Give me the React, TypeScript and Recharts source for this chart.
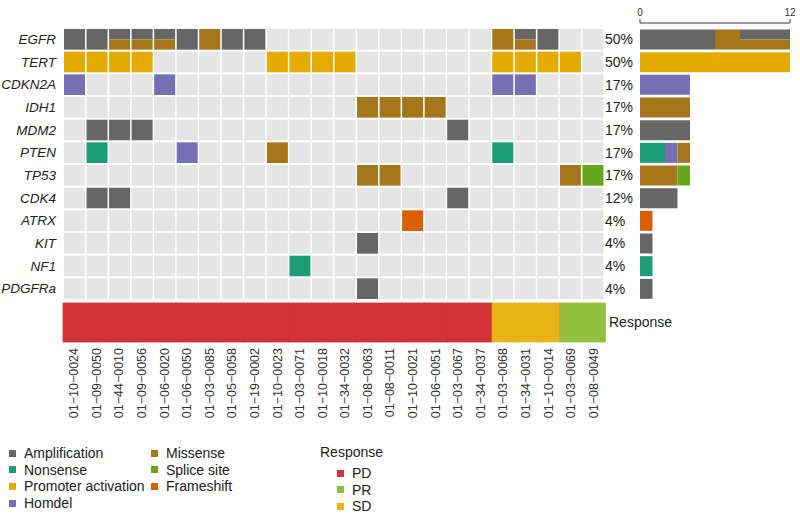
import { BarChart, Bar, XAxis, YAxis, Cell } from "recharts";

const FONT = "'Liberation Sans', Arial, Helvetica, sans-serif";

const samples = [
  "01−10−0024", "01−09−0050", "01−44−0010", "01−09−0056", "01−06−0020", "01−06−0050",
  "01−03−0085", "01−05−0058", "01−19−0002", "01−10−0023", "01−03−0071", "01−10−0018",
  "01−34−0032", "01−08−0063", "01−08−0011", "01−10−0021", "01−06−0051", "01−03−0067",
  "01−34−0037", "01−03−0068", "01−34−0031", "01−10−0014", "01−03−0069", "01−08−0049",
];

const response = [
  "PD", "PD", "PD", "PD", "PD", "PD", "PD", "PD", "PD", "PD", "PD", "PD",
  "PD", "PD", "PD", "PD", "PD", "PD", "PD", "SD", "SD", "SD", "PR", "PR",
];

const genes = ["EGFR", "TERT", "CDKN2A", "IDH1", "MDM2", "PTEN", "TP53", "CDK4", "ATRX", "KIT", "NF1", "PDGFRa"];
const pctLabels = ["50%", "50%", "17%", "17%", "17%", "17%", "17%", "12%", "4%", "4%", "4%", "4%"];

// one code per sample: A amplification, N nonsense, P promoter activation,
// H homdel, M missense, S splice site, F frameshift, "" none
const EGFR = ["A", "A", "AM", "AM", "AM", "A", "M", "A", "A", "", "", "", "", "", "", "", "", "", "", "M", "AM", "A", "", ""];
const TERT = ["P", "P", "P", "P", "", "", "", "", "", "P", "P", "P", "P", "", "", "", "", "", "", "P", "P", "P", "P", ""];
const CDKN2A = ["H", "", "", "", "H", "", "", "", "", "", "", "", "", "", "", "", "", "", "", "H", "H", "", "", ""];
const IDH1 = ["", "", "", "", "", "", "", "", "", "", "", "", "", "M", "M", "M", "M", "", "", "", "", "", "", ""];
const MDM2 = ["", "A", "A", "A", "", "", "", "", "", "", "", "", "", "", "", "", "", "A", "", "", "", "", "", ""];
const PTEN = ["", "N", "", "", "", "H", "", "", "", "M", "", "", "", "", "", "", "", "", "", "N", "", "", "", ""];
const TP53 = ["", "", "", "", "", "", "", "", "", "", "", "", "", "M", "M", "", "", "", "", "", "", "", "M", "S"];
const CDK4 = ["", "A", "A", "", "", "", "", "", "", "", "", "", "", "", "", "", "", "A", "", "", "", "", "", ""];
const ATRX = ["", "", "", "", "", "", "", "", "", "", "", "", "", "", "", "F", "", "", "", "", "", "", "", ""];
const KIT = ["", "", "", "", "", "", "", "", "", "", "", "", "", "A", "", "", "", "", "", "", "", "", "", ""];
const NF1 = ["", "", "", "", "", "", "", "", "", "", "N", "", "", "", "", "", "", "", "", "", "", "", "", ""];
const PDGFRa = ["", "", "", "", "", "", "", "", "", "", "", "", "", "A", "", "", "", "", "", "", "", "", "", ""];

const geneCodes: Record<string, string[]> = { EGFR, TERT, CDKN2A, IDH1, MDM2, PTEN, TP53, CDK4, ATRX, KIT, NF1, PDGFRa };

const mutColors: Record<string, string> = {
  A: "#666666",
  N: "#1b9e77",
  P: "#e6ab02",
  H: "#7570b3",
  M: "#a6761d",
  S: "#66a61e",
  F: "#d95f02",
};
const respColors: Record<string, string> = { PD: "#d13336", PR: "#92c140", SD: "#e8b417" };
const BG = "#e5e5e5";

const gridData = samples.map((s, i) => {
  const row: Record<string, string | number> = { sample: s };
  genes.forEach((g) => {
    row[g] = 1;
    row[g + "_code"] = geneCodes[g][i];
  });
  return row;
});

const respData = samples.map((s, i) => ({ sample: s, response: response[i] }));

const barKeys = ["A", "N", "P", "H", "M", "AM", "S", "F"];
const countData = genes.map((g, gi) => {
  const row: Record<string, string | number> = { gene: g, pct: pctLabels[gi] };
  barKeys.forEach((k) => (row[k] = 0));
  geneCodes[g].forEach((c) => {
    if (c) row[c] = (row[c] as number) + 1;
  });
  return row;
});

function GridCell(props: any) {
  const { x, y, width, height, gene, index } = props;
  const code: string = geneCodes[gene][index];
  const x0 = x + 1;
  const y0 = y + 1;
  const w = width - 2;
  const h = height - 2;
  if (code.length === 2) {
    return (
      <g>
        <rect x={x0} y={y0} width={w} height={h / 2} fill={mutColors[code[0]]} />
        <rect x={x0} y={y0 + h / 2} width={w} height={h / 2} fill={mutColors[code[1]]} />
      </g>
    );
  }
  return <rect x={x0} y={y0} width={w} height={h} fill={code ? mutColors[code] : BG} />;
}

function SplitBar(props: any) {
  const { x, y, width, height } = props;
  if (!width) return null;
  return (
    <g>
      <rect x={x} y={y} width={width} height={height / 2} fill={mutColors.A} />
      <rect x={x} y={y + height / 2} width={width} height={height / 2} fill={mutColors.M} />
    </g>
  );
}

const legendMut = [
  ["A", "Amplification"],
  ["N", "Nonsense"],
  ["P", "Promoter activation"],
  ["H", "Homdel"],
  ["M", "Missense"],
  ["S", "Splice site"],
  ["F", "Frameshift"],
];
const legendResp = ["PD", "PR", "SD"];

function LegendItem({ color, label, left, top }: { color: string; label: string; left: number; top: number }) {
  return (
    <div style={{ position: "absolute", left, top, display: "flex", alignItems: "center", whiteSpace: "nowrap" }}>
      <span style={{ width: 7, height: 7, background: color, display: "inline-block", marginRight: 8 }} />
      <span>{label}</span>
    </div>
  );
}

export default function App() {
  return (
    <div
      style={{
        position: "absolute",
        left: 0,
        top: 0,
        width: 800,
        height: 516,
        background: "#fff",
        fontFamily: FONT,
        color: "#222",
        fontSize: 14,
      }}
    >
      <div style={{ position: "absolute", left: 0, top: 0 }}>
        <BarChart width={610} height={300} data={gridData} margin={{ top: 28, right: 6, left: 3, bottom: 0 }} barCategoryGap={0}>
          <XAxis dataKey="sample" hide />
          <YAxis
            type="number"
            domain={[0, 12]}
            ticks={genes.map((_, i) => i + 0.5)}
            interval={0}
            width={60}
            axisLine={false}
            tickLine={false}
            tick={(p: any) => (
              <text
                x={p.x + 1}
                y={p.y}
                dy="0.35em"
                textAnchor="end"
                fontStyle="italic"
                fontSize={13.5}
                fill="#222"
                fontFamily={FONT}
              >
                {genes[11 - Math.floor(p.payload.value)]}
              </text>
            )}
          />
          {[...genes].reverse().map((g) => (
            <Bar
              key={g}
              dataKey={g}
              stackId="g"
              isAnimationActive={false}
              shape={(p: any) => <GridCell {...p} gene={g} />}
            />
          ))}
        </BarChart>
      </div>

      <div style={{ position: "absolute", left: 0, top: 300 }}>
        <BarChart width={610} height={140} data={respData} margin={{ top: 3, right: 5, left: 63, bottom: 0 }} barCategoryGap={0}>
          <XAxis
            dataKey="sample"
            height={98}
            axisLine={false}
            tickLine={false}
            tickSize={4}
            tickMargin={2}
            interval={0}
            tick={(p: any) => (
              <text
                x={p.x}
                y={p.y}
                transform={`rotate(-90, ${p.x}, ${p.y})`}
                textAnchor="end"
                dominantBaseline="central"
                fontSize={12.5}
                fill="#333"
                fontFamily={FONT}
              >
                {p.payload.value}
              </text>
            )}
          />
          <YAxis hide domain={[0, 1]} />
          <Bar dataKey={() => 1} isAnimationActive={false}>
            {respData.map((d) => (
              <Cell key={d.sample} fill={respColors[d.response]} stroke={respColors[d.response]} strokeWidth={0.8} />
            ))}
          </Bar>
        </BarChart>
      </div>

      <div style={{ position: "absolute", left: 609, top: 314 }}>Response</div>

      <div style={{ position: "absolute", left: 596, top: 0 }}>
        <BarChart
          width={204}
          height={300}
          data={countData}
          layout="vertical"
          margin={{ top: 3, right: 10, left: 0, bottom: 0 }}
          barCategoryGap={1.5}
        >
          <XAxis
            type="number"
            orientation="top"
            domain={[0, 12]}
            ticks={[0, 12]}
            height={20}
            tickSize={4}
            tickMargin={3}
            stroke="#333"
            tick={{ fontSize: 10, fill: "#333", fontFamily: FONT }}
          />
          <YAxis
            type="category"
            dataKey="gene"
            width={44}
            interval={0}
            padding={{ top: 5, bottom: 0 }}
            axisLine={false}
            tickLine={false}
            tick={(p: any) => (
              <text x={9} y={p.y} dy="0.35em" textAnchor="start" fontSize={14} fill="#222" fontFamily={FONT}>
                {pctLabels[genes.indexOf(p.payload.value)]}
              </text>
            )}
          />
          {barKeys.map((k) =>
            k === "AM" ? (
              <Bar key={k} dataKey={k} stackId="c" isAnimationActive={false} shape={(p: any) => <SplitBar {...p} />} />
            ) : (
              <Bar key={k} dataKey={k} stackId="c" fill={mutColors[k]} isAnimationActive={false} />
            )
          )}
        </BarChart>
      </div>

      {legendMut.slice(0, 4).map(([k, label], i) => (
        <LegendItem key={k} color={mutColors[k]} label={label} left={9} top={445 + i * 16.7} />
      ))}
      {legendMut.slice(4).map(([k, label], i) => (
        <LegendItem key={k} color={mutColors[k]} label={label} left={151} top={445 + i * 16.7} />
      ))}
      <div style={{ position: "absolute", left: 320, top: 444 }}>Response</div>
      {legendResp.map((r, i) => (
        <LegendItem key={r} color={respColors[r]} label={r} left={337} top={465 + i * 16.7} />
      ))}
    </div>
  );
}
